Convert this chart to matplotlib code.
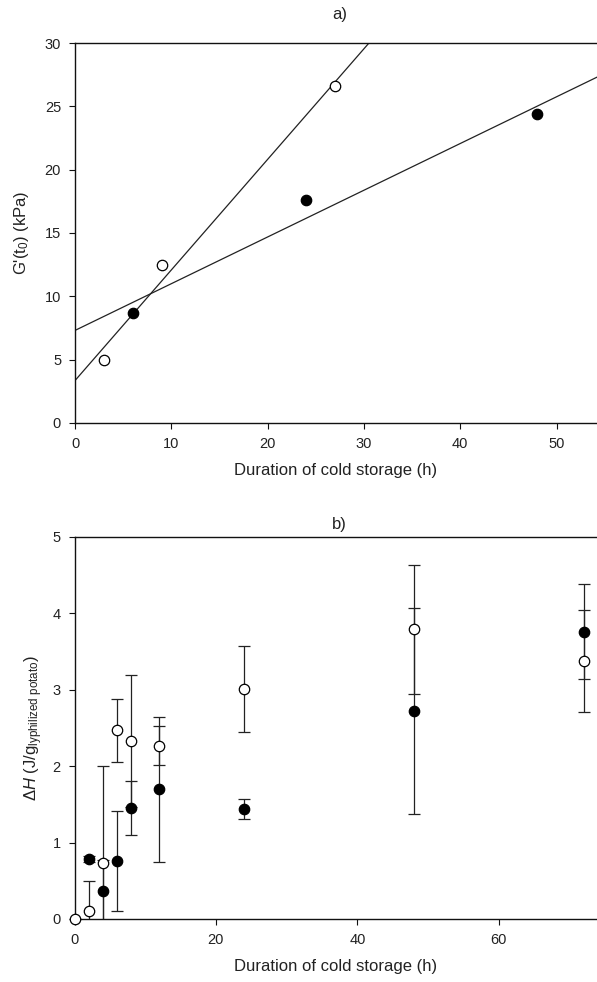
import numpy as np
import matplotlib
matplotlib.use("Agg")
import matplotlib.pyplot as plt

plt.rcParams["font.family"] = ["Liberation Sans", "DejaVu Sans"]
plt.rcParams["mathtext.fontset"] = "custom"
plt.rcParams["mathtext.rm"] = "Liberation Sans"
plt.rcParams["mathtext.it"] = "Liberation Sans:italic"
plt.rcParams["mathtext.sf"] = "Liberation Sans"

# ---- panel a: G'(t0) vs cold-storage time ----
a_open_x = [3, 9, 27]
a_open_y = [5.0, 12.5, 26.6]
a_fill_x = [6, 24, 48]
a_fill_y = [8.7, 17.6, 24.4]

# ---- panel b: enthalpy vs cold-storage time ----
b_open_x = [0, 2, 4, 6, 8, 12, 24, 48, 72]
b_open_y = [0.0, 0.10, 0.73, 2.47, 2.33, 2.27, 3.01, 3.79, 3.38]
b_open_err = [0.0, 0.40, 1.27, 0.41, 0.86, 0.26, 0.56, 0.85, 0.67]
b_fill_x = [2, 4, 6, 8, 12, 24, 48, 72]
b_fill_y = [0.79, 0.37, 0.76, 1.45, 1.70, 1.44, 2.72, 3.76]
b_fill_err = [0.04, 0.40, 0.66, 0.35, 0.95, 0.13, 1.35, 0.62]

txt = "#222222"
fig = plt.figure(figsize=(5.97, 9.82), dpi=100)

ax1 = fig.add_axes([75 / 597, 1 - 423 / 982, 1 - 75 / 597, (423 - 43) / 982])
ax2 = fig.add_axes([74.5 / 597, 1 - 919 / 982, 1 - 74.5 / 597, (919 - 537) / 982])

for ax in (ax1, ax2):
    ax.spines["right"].set_visible(False)
    for s in ("left", "bottom", "top"):
        ax.spines[s].set_linewidth(1.0)
        ax.spines[s].set_color("#111111")
    ax.tick_params(direction="out", length=4, width=0.8, labelsize=10.5,
                   colors="#111111", labelcolor=txt, pad=6)

# panel a
xmax_a = 54.2
xx = np.array([0, xmax_a])
for xs, ys in ((a_open_x, a_open_y), (a_fill_x, a_fill_y)):
    k, b = np.polyfit(xs, ys, 1)
    ax1.plot(xx, k * xx + b, color="#222222", lw=0.9)
ax1.plot(a_open_x, a_open_y, "o", ms=7.5, mfc="white", mec="black", mew=0.9)
ax1.plot(a_fill_x, a_fill_y, "o", ms=7.5, mfc="black", mec="black", mew=0.9)
ax1.set_xlim(0, xmax_a)
ax1.set_ylim(0, 30)
ax1.set_xticks(range(0, 51, 10))
ax1.set_yticks(range(0, 31, 5))
ax1.set_xlabel("Duration of cold storage (h)", fontsize=12, color=txt, labelpad=9)
ax1.set_ylabel("G'(t$_0$) (kPa)", fontsize=12, color=txt, labelpad=10)

# panel b
eb = dict(fmt="none", ecolor="#222222", elinewidth=0.9, capsize=4, capthick=0.9)
ax2.errorbar(b_fill_x, b_fill_y, yerr=b_fill_err, **eb)
ax2.errorbar(b_open_x, b_open_y, yerr=b_open_err, **eb)
ax2.plot(b_fill_x, b_fill_y, "o", ms=7.5, mfc="black", mec="black", mew=0.9,
         clip_on=False, zorder=4)
ax2.plot(b_open_x, b_open_y, "o", ms=7.5, mfc="white", mec="black", mew=0.9,
         clip_on=False, zorder=5)
ax2.set_xlim(0, 73.9)
ax2.set_ylim(0, 5)
ax2.set_xticks(range(0, 61, 20))
ax2.set_yticks(range(0, 6))
ax2.set_xlabel("Duration of cold storage (h)", fontsize=12, color=txt, labelpad=9)
ax2.set_ylabel(r"$\it{\Delta H}$ (J/g$_{\rm lyphilized\ potato}$)", fontsize=12,
               color=txt, labelpad=5)

fig.text(340 / 597, 1 - 15 / 982, "a)", fontsize=12, color=txt, ha="center", va="center")
fig.text(339 / 597, 1 - 524 / 982, "b)", fontsize=12, color=txt, ha="center", va="center")

fig.savefig("out.png", dpi=100)
